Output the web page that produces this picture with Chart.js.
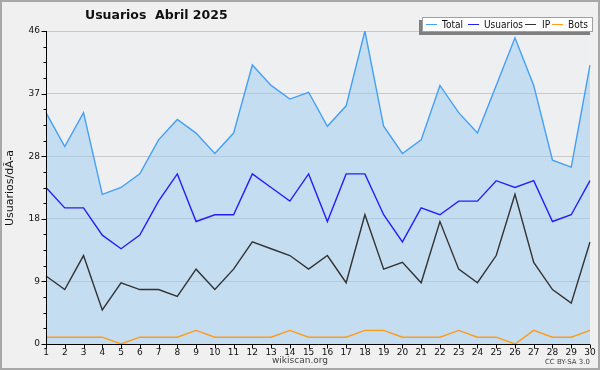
<!DOCTYPE html>
<html><head><meta charset="utf-8">
<script src="https://cdn.jsdelivr.net/npm/chart.js@4.4.1/dist/chart.umd.min.js"></script>
<style>html,body{margin:0;padding:0;background:#f0f0f0}canvas{display:block}</style>
</head><body>
<canvas id="c" width="600" height="370" style="width:600px;height:370px"></canvas>
<script>
const days = ['1','2','3','4','5','6','7','8','9','10','11','12','13','14','15','16','17','18','19','20','21','22','23','24','25','26','27','28','29','30'];
const total    = [34,29,34,22,23,25,30,33,31,28,31,41,38,36,37,32,35,46,32,28,30,38,34,31,38,45,38,27,26,41];
const usuarios = [23,20,20,16,14,16,21,25,18,19,19,25,23,21,25,18,25,25,19,15,20,19,21,21,24,23,24,18,19,24];
const ip       = [10,8,13,5,9,8,8,7,11,8,11,15,14,13,11,13,9,19,11,12,9,18,11,9,13,22,12,8,6,15];
const bots     = [1,1,1,1,0,1,1,1,2,1,1,1,1,2,1,1,1,2,2,1,1,1,2,1,1,0,2,1,1,2];
const yMax = 46;
const yTickLabels = ['0','9','18','28','37','46'];
const seriesNames = ['Total','Usuarios','IP','Bots'];
const chartTitle = 'Usuarios  Abril 2025';
const yAxisTitle = 'Usuarios/dÃ-a';

const colTotal = '#449ff5', colUs = '#2020ff', colIp = '#333333', colBots = '#ff9a1a';
const FONT = '"DejaVu Sans", sans-serif';

const deco = {
  id: 'deco',
  beforeDraw(chart) {
    const ctx = chart.ctx, a = chart.chartArea;
    ctx.save();
    ctx.fillStyle = '#f0f0f0';
    ctx.fillRect(0, 0, chart.width, chart.height);
    ctx.fillStyle = '#eeeff1';
    ctx.fillRect(a.left, a.top, a.right - a.left, a.bottom - a.top);
    ctx.restore();
  },
  afterDatasetsDraw(chart) {
    const ctx = chart.ctx, a = chart.chartArea;
    const xs = chart.scales.x, ys = chart.scales.y;
    ctx.save();
    ctx.strokeStyle = '#000';
    ctx.lineWidth = 1;
    ctx.beginPath();
    ctx.moveTo(Math.round(a.left) + 0.5, a.top);
    ctx.lineTo(Math.round(a.left) + 0.5, Math.round(a.bottom) + 0.5);
    ctx.lineTo(a.right, Math.round(a.bottom) + 0.5);
    ys.ticks.forEach((t, i) => {
      const y = Math.round(ys.getPixelForValue(t.value)) + 0.5;
      const len = (i % 4 === 0) ? 5 : 3;
      ctx.moveTo(Math.round(a.left) + 0.5 - len, y);
      ctx.lineTo(Math.round(a.left) + 0.5, y);
    });
    days.forEach((d, i) => {
      const x = Math.round(xs.getPixelForValue(i)) + 0.5;
      ctx.moveTo(x, Math.round(a.bottom) + 0.5);
      ctx.lineTo(x, Math.round(a.bottom) + 4.5);
    });
    ctx.stroke();
    ctx.restore();
  },
  afterDraw(chart) {
    const ctx = chart.ctx;
    ctx.save();
    ctx.fillStyle = '#111';
    ctx.font = 'bold 12.5px ' + FONT;
    ctx.textBaseline = 'middle';
    ctx.textAlign = 'left';
    ctx.fillText(chartTitle, 85, 16);
    ctx.save();
    ctx.translate(10, 188);
    ctx.rotate(-Math.PI / 2);
    ctx.textAlign = 'center';
    ctx.font = '11px ' + FONT;
    ctx.fillText(yAxisTitle, 0, 0);
    ctx.restore();
    ctx.fillStyle = '#444';
    ctx.textAlign = 'center';
    ctx.font = '9px ' + FONT;
    ctx.fillText('wikiscan.org', 300, 361);
    ctx.textAlign = 'right';
    ctx.font = '7px ' + FONT;
    ctx.fillText('CC BY-SA 3.0', 590, 362);
    // legend
    ctx.fillStyle = '#808080';
    ctx.fillRect(419, 20, 171, 15);
    ctx.fillStyle = '#ffffff';
    ctx.fillRect(422, 17, 171, 15);
    ctx.strokeStyle = '#a0a0a0';
    ctx.lineWidth = 1;
    ctx.strokeRect(422.5, 17.5, 170, 14);
    const items = [[426, 442, colTotal], [468, 484, colUs], [525, 542, colIp], [552, 568, colBots]];
    ctx.font = '10.5px ' + FONT;
    ctx.textAlign = 'left';
    ctx.textBaseline = 'middle';
    items.forEach((it, i) => {
      ctx.strokeStyle = it[2];
      ctx.beginPath();
      ctx.moveTo(it[0], 24.5);
      ctx.lineTo(it[0] + 11, 24.5);
      ctx.stroke();
      ctx.fillStyle = '#111';
      ctx.save();
      ctx.translate(it[1], 25);
      ctx.scale(0.86, 1);
      ctx.fillText(seriesNames[i], 0, 0);
      ctx.restore();
    });
    ctx.strokeStyle = '#a8a8a8';
    ctx.lineWidth = 2;
    ctx.strokeRect(1, 1, 598, 368);
    ctx.restore();
  }
};

const ds = (label, data, color, extra) => Object.assign({
  label, data, borderColor: color, borderWidth: 1.4, pointRadius: 0,
  tension: 0, fill: false
}, extra || {});

new Chart(document.getElementById('c'), {
  type: 'line',
  data: {
    labels: days,
    datasets: [
      ds(seriesNames[3], bots, colBots, {order: 1}),
      ds(seriesNames[2], ip, colIp, {order: 2}),
      ds(seriesNames[1], usuarios, colUs, {order: 3}),
      ds(seriesNames[0], total, colTotal, {order: 4, fill: 'origin', backgroundColor: 'rgba(156,203,239,0.5)'})
    ]
  },
  options: {
    responsive: false,
    devicePixelRatio: 1,
    animation: false,
    events: [],
    layout: { padding: { left: 0, top: 31, right: 10, bottom: 0 } },
    plugins: { legend: { display: false }, title: { display: false }, tooltip: { enabled: false } },
    scales: {
      x: {
        type: 'category',
        offset: false,
        grid: { display: false, drawTicks: false },
        border: { display: false },
        ticks: { color: '#111', font: { family: FONT, size: 9 }, padding: 3, maxRotation: 0, autoSkip: false },
        afterFit(s) { s.height = 26; }
      },
      y: {
        min: 0, max: yMax,
        afterBuildTicks(s) {
          const arr = [];
          for (let i = 0; i <= 20; i++) arr.push({ value: yMax * i / 20 });
          s.ticks = arr;
        },
        grid: {
          drawTicks: false,
          color: (c) => (c.index % 4 === 0 ? '#c8c8c8' : 'rgba(0,0,0,0)'),
          lineWidth: 1
        },
        border: { display: false },
        ticks: {
          color: '#111', font: { family: FONT, size: 9 }, padding: 6, autoSkip: false,
          callback: (v, i) => (i % 4 === 0 ? yTickLabels[i / 4] : '')
        },
        afterFit(s) { s.width = 46; }
      }
    }
  },
  plugins: [deco]
});
</script>
</body></html>
